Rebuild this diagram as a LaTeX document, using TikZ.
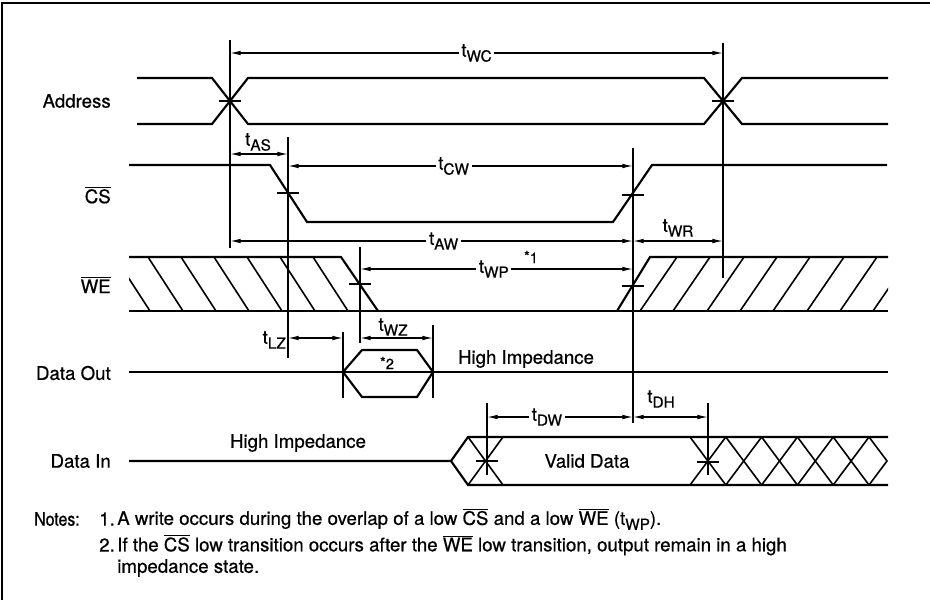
\documentclass[tikz,border=0pt]{standalone}
\usepackage{fontspec}
\setmainfont{TeX Gyre Heros}[FakeBold=0.6]
\usetikzlibrary{arrows.meta}

\tikzset{
  sig/.style={line width=1.6pt},
  guide/.style={line width=0.9pt},
  hatch/.style={line width=1.2pt},
  dim/.style={line width=0.9pt,{Latex[length=8pt,width=3.5pt]}-{Latex[length=8pt,width=3.5pt]}},
  lbl/.style={inner sep=0.75pt,font=\fontsize{14}{16}\selectfont},
  tlbl/.style={fill=white,inner sep=2pt,font=\fontsize{14}{16}\selectfont},
  note/.style={inner sep=0.75pt,anchor=west,font=\fontsize{14}{16}\selectfont},
  mark note/.style={inner sep=0.75pt,font=\fontsize{11}{12}\selectfont},
}
\newcommand{\tsub}[1]{t\raisebox{-0.5ex}{\fontsize{11.5}{12}\selectfont #1}}
\newcommand{\lowbar}[1]{$\overline{\mbox{#1}}$}

\begin{document}
\begin{tikzpicture}[x=0.75pt,y=0.75pt,yscale=-1,xscale=1]
\useasboundingbox (0,0) rectangle (930,600);

%frame
\draw[line width=1pt] (2,600) -- (2,3) -- (930,3);

%time points
\coordinate (wc1) at (230,53);  \coordinate (wc2) at (723,53);
\coordinate (as1) at (230,154); \coordinate (as2) at (288,154);
\coordinate (cw1) at (288,166); \coordinate (cw2) at (633,166);
\coordinate (aw1) at (230,241); \coordinate (aw2) at (633,241);
\coordinate (wr2) at (723,241);
\coordinate (wp1) at (360,269); \coordinate (wp2) at (633,269);
\coordinate (lz1) at (288,338); \coordinate (lz2) at (343,338);
\coordinate (wz1) at (360,338); \coordinate (wz2) at (433,338);
\coordinate (dw1) at (487,417); \coordinate (dw2) at (633,417);
\coordinate (dh2) at (708,417);

%Straight Lines, guides
\draw[guide] (230,40) -- (230,248);
\draw[guide] (723,43) -- (723,278);
\draw[guide] (288,137) -- (288,358);
\draw[guide] (633,148) -- (633,423);
\draw[guide] (360,247) -- (360,343);
\draw[guide] (343,332) -- (343,398);
\draw[guide] (433,325) -- (433,398);
\draw[guide] (487,403) -- (487,475);
\draw[guide] (708,403) -- (708,475);

%ticks
\foreach \x/\y in {230/101,723/101,288/193,633/195,360/284,633/286,487/461,708/462}
  \draw[guide] (\x-11,\y) -- (\x+11,\y);

%Address
\draw[sig] (137,78) -- (212,78) -- (248,124) -- (704,124) -- (742,78) -- (888,78);
\draw[sig] (137,124) -- (212,124) -- (248,78) -- (704,78) -- (742,124) -- (888,124);

%CS
\draw[sig] (129,165) -- (270,165) -- (307,222) -- (613,222) -- (652,165) -- (887,165);

%WE
\draw[sig] (129,257) -- (341,257) -- (378,311);
\draw[sig] (129,311) -- (888,311);
\draw[sig] (617,311) -- (650,257) -- (888,257);
\begin{scope}
  \clip (129,257) -- (341,257) -- (378,311) -- (129,311) -- cycle;
  \foreach \x in {115,148,181,214,247,280,313}
    \draw[hatch] (\x,257) -- ++(35,54);
\end{scope}
\begin{scope}
  \clip (617,311) -- (650,257) -- (888,257) -- (888,311) -- cycle;
  \foreach \x in {640,673,707,740,773,807,840,873}
    \draw[hatch] (\x,311) -- ++(37,-54);
\end{scope}

%Data Out
\draw[sig] (129,372) -- (888,372);
\draw[sig] (343,372) -- (362,350) -- (417,350) -- (433,372) -- (417,397) -- (362,397) -- cycle;

%Data In
\draw[sig] (129,461) -- (451,461) -- (468,437) -- (888,437);
\draw[sig] (451,461) -- (468,485) -- (888,485);
\draw[hatch] (468,437) -- (503,485);
\draw[hatch] (468,485) -- (503,437);
\foreach \x in {690,725.8,761.6,797.4,833.2}{
  \draw[hatch] (\x,437) -- ++(35.8,48);
  \draw[hatch] (\x,485) -- ++(35.8,-48);
}
\draw[hatch] (869,437) -- (887,461) -- (869,485);

%dimension arrows
\draw[dim] (wc1) -- node[tlbl] (twc) {\tsub{WC}} (wc2);
\draw[dim] (as1) -- (as2);
\draw[dim] (cw1) -- node[tlbl,pos=0.48] (tcw) {\tsub{CW}} (cw2);
\draw[dim] (aw1) -- node[tlbl,pos=0.53] (taw) {\tsub{AW}} (aw2);
\draw[dim] (aw2) -- (wr2);
\draw[dim] (wp1) -- node[tlbl,pos=0.49] (twp) {\tsub{WP}} (wp2);
\draw[dim] (lz1) -- (lz2);
\draw[dim] (wz1) -- (wz2);
\draw[dim] (dw1) -- node[tlbl,pos=0.41] (tdw) {\tsub{DW}} (dw2);
\draw[dim] (dw2) -- (dh2);

% Text Node
\draw (258,142) node (tas) [lbl] {\tsub{AS}};
\draw (678,228) node (twr) [lbl] {\tsub{WR}};
\draw (531,257) node (n1) [mark note] {\raisebox{0.2ex}{*}1};
\draw (287,340) node (tlz) [lbl,anchor=east] {\tsub{LZ}};
\draw (393,327) node (twz) [lbl] {\tsub{WZ}};
\draw (387,363) node (n2) [mark note] {\raisebox{0.2ex}{*}2};
\draw (661,399) node (tdh) [lbl] {\tsub{DH}};
\draw (526,359) node (hiz1) [lbl] {High Impedance};
\draw (298,443) node (hiz2) [lbl] {High Impedance};
\draw (587,461) node (valid) [lbl] {Valid Data};

% Text Node, signal names
\draw (112,101) node (address) [lbl,anchor=east] {Address};
\draw (112,195) node (cs) [lbl,anchor=east] {\lowbar{CS}};
\draw (112,285) node (we) [lbl,anchor=east] {\lowbar{WE}};
\draw (112,373) node (dout) [lbl,anchor=east] {Data Out};
\draw (112,461) node (din) [lbl,anchor=east] {Data In};

% Text Node, notes
\draw (33,519) node (notes) [note] {\scalebox{0.85}[1]{Notes:}};
\draw (98,519) node (k1) [note] {1.};
\draw (116,519) node (note1) [note] {A write occurs during the overlap of a low \lowbar{CS} and a low \lowbar{WE} (\tsub{WP}).};
\draw (98,545) node (k2) [note] {2.};
\draw (116,545) node (note2) [note] {If the \lowbar{CS} low transition occurs after the \lowbar{WE} low transition, output remain in a high};
\draw (116,568) node (note3) [note] {impedance state.};

\end{tikzpicture}
\end{document}
